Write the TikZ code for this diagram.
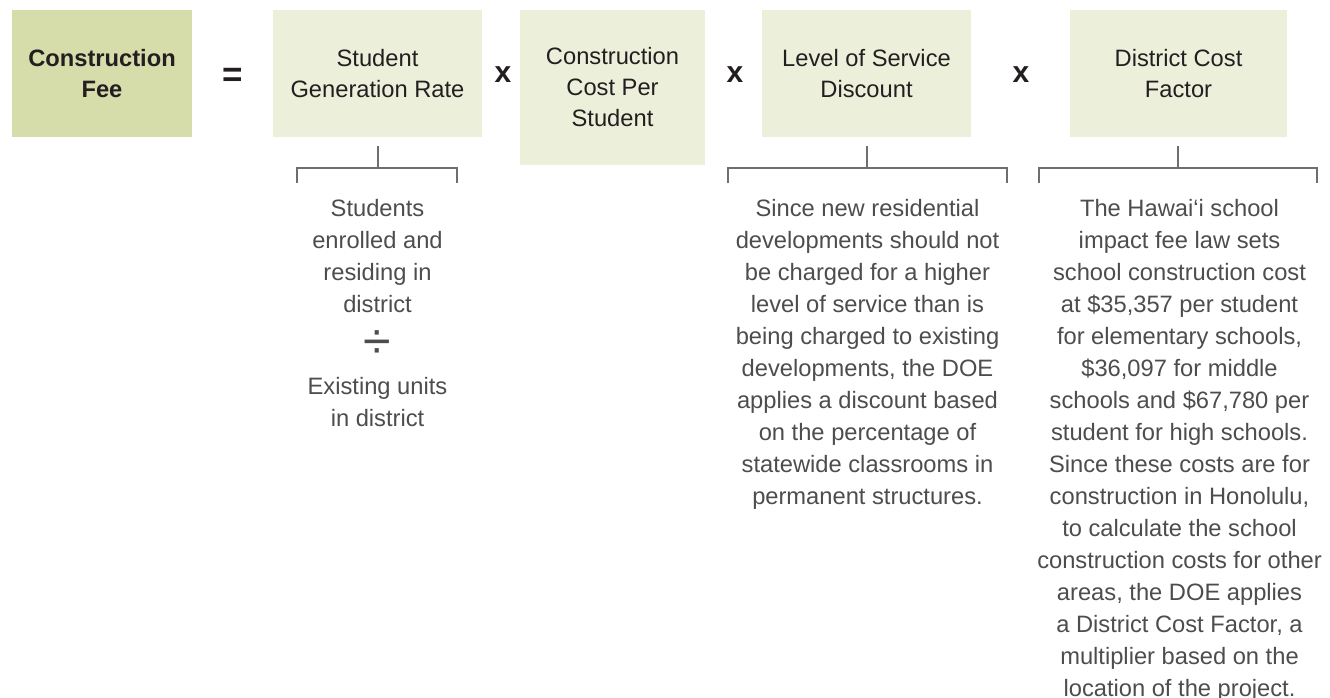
\documentclass[tikz,border=0pt]{standalone}
\usepackage{fontspec}
\setmainfont{Liberation Sans}
\definecolor{boxdark}{HTML}{D6DCAA}
\definecolor{boxlight}{HTML}{ECEFDA}
\definecolor{boxtext}{HTML}{231F20}
\definecolor{desctext}{HTML}{4D4D4D}
\definecolor{brline}{HTML}{6D6E71}
\begin{document}
\begin{tikzpicture}[x=1pt,y=-1pt,
  box/.style={fill=boxlight, draw=none, text=boxtext, align=center, inner sep=0pt,
    font=\fontsize{23.7}{31}\selectfont},
  op/.style={text=boxtext, inner sep=0pt, font=\fontsize{30}{30}\selectfont\bfseries},
  desc/.style={text=desctext, align=center, inner sep=0pt, anchor=north,
    font=\fontsize{23.7}{32}\selectfont},
  br/.style={draw=brline, line width=1.2pt}]
\useasboundingbox[fill=white] (0,0) rectangle (1330,698);
% boxes
\node[box, fill=boxdark, minimum width=180pt, minimum height=127pt, font=\fontsize{23.7}{31}\selectfont\bfseries] (fee) at (102,73.5) {Construction\\Fee};
\node[box, minimum width=209pt, minimum height=127pt] (sgr) at (377.5,73.5) {Student\\Generation Rate};
\node[box, minimum width=185pt, minimum height=155pt] (ccs) at (612.5,87.5) {Construction\\Cost Per\\Student};
\node[box, minimum width=209pt, minimum height=127pt] (los) at (866.5,73.5) {Level of Service\\Discount};
\node[box, minimum width=217pt, minimum height=127pt] (dcf) at (1178.5,73.5) {District Cost\\Factor};
% operators
\node[op, font=\fontsize{35}{35}\selectfont\bfseries] (eq) at (233,77) {=};
\node[op] (x1) at (503,75) {x};
\node[op] (x2) at (735,75) {x};
\node[op] (x3) at (1021,75) {x};
% bracket coordinates
\coordinate (s2) at (378,168);
\coordinate (l2) at (297,183);
\coordinate (r2) at (457,183);
\coordinate (s4) at (867,168);
\coordinate (l4) at (728,183);
\coordinate (r4) at (1007,183);
\coordinate (s5) at (1178,168);
\coordinate (l5) at (1039,183);
\coordinate (r5) at (1317,183);
% brackets
\draw[br] ([yshift=-9pt]sgr.south -| s2) -- (s2);
\draw[br] (l2) -- (l2 |- s2) -- (r2 |- s2) -- (r2);
\draw[br] ([yshift=-9pt]los.south -| s4) -- (s4);
\draw[br] (l4) -- (l4 |- s4) -- (r4 |- s4) -- (r4);
\draw[br] ([yshift=-9pt]dcf.south -| s5) -- (s5);
\draw[br] (l5) -- (l5 |- s5) -- (r5 |- s5) -- (r5);
% descriptions
\node[desc] (d2a) at (377.5,199) {Students\\enrolled and\\residing in\\district};
\node[text=desctext, inner sep=0pt, font=\fontsize{50}{50}\selectfont] (div) at (377.5,345) {÷};
\node[desc] (d2b) at (377.5,377) {Existing units\\in district};
\node[desc] (d4) at (867.5,199) {Since new residential\\developments should not\\be charged for a higher\\level of service than is\\being charged to existing\\developments, the DOE\\applies a discount based\\on the percentage of\\statewide classrooms in\\permanent structures.};
\node[desc] (d5) at (1179.5,199) {The Hawai‘i school\\impact fee law sets\\school construction cost\\at \$35,357 per student\\for elementary schools,\\\$36,097 for middle\\schools and \$67,780 per\\student for high schools.\\Since these costs are for\\construction in Honolulu,\\to calculate the school\\construction costs for other\\areas, the DOE applies\\a District Cost Factor, a\\multiplier based on the\\location of the project.};
\end{tikzpicture}
\end{document}
